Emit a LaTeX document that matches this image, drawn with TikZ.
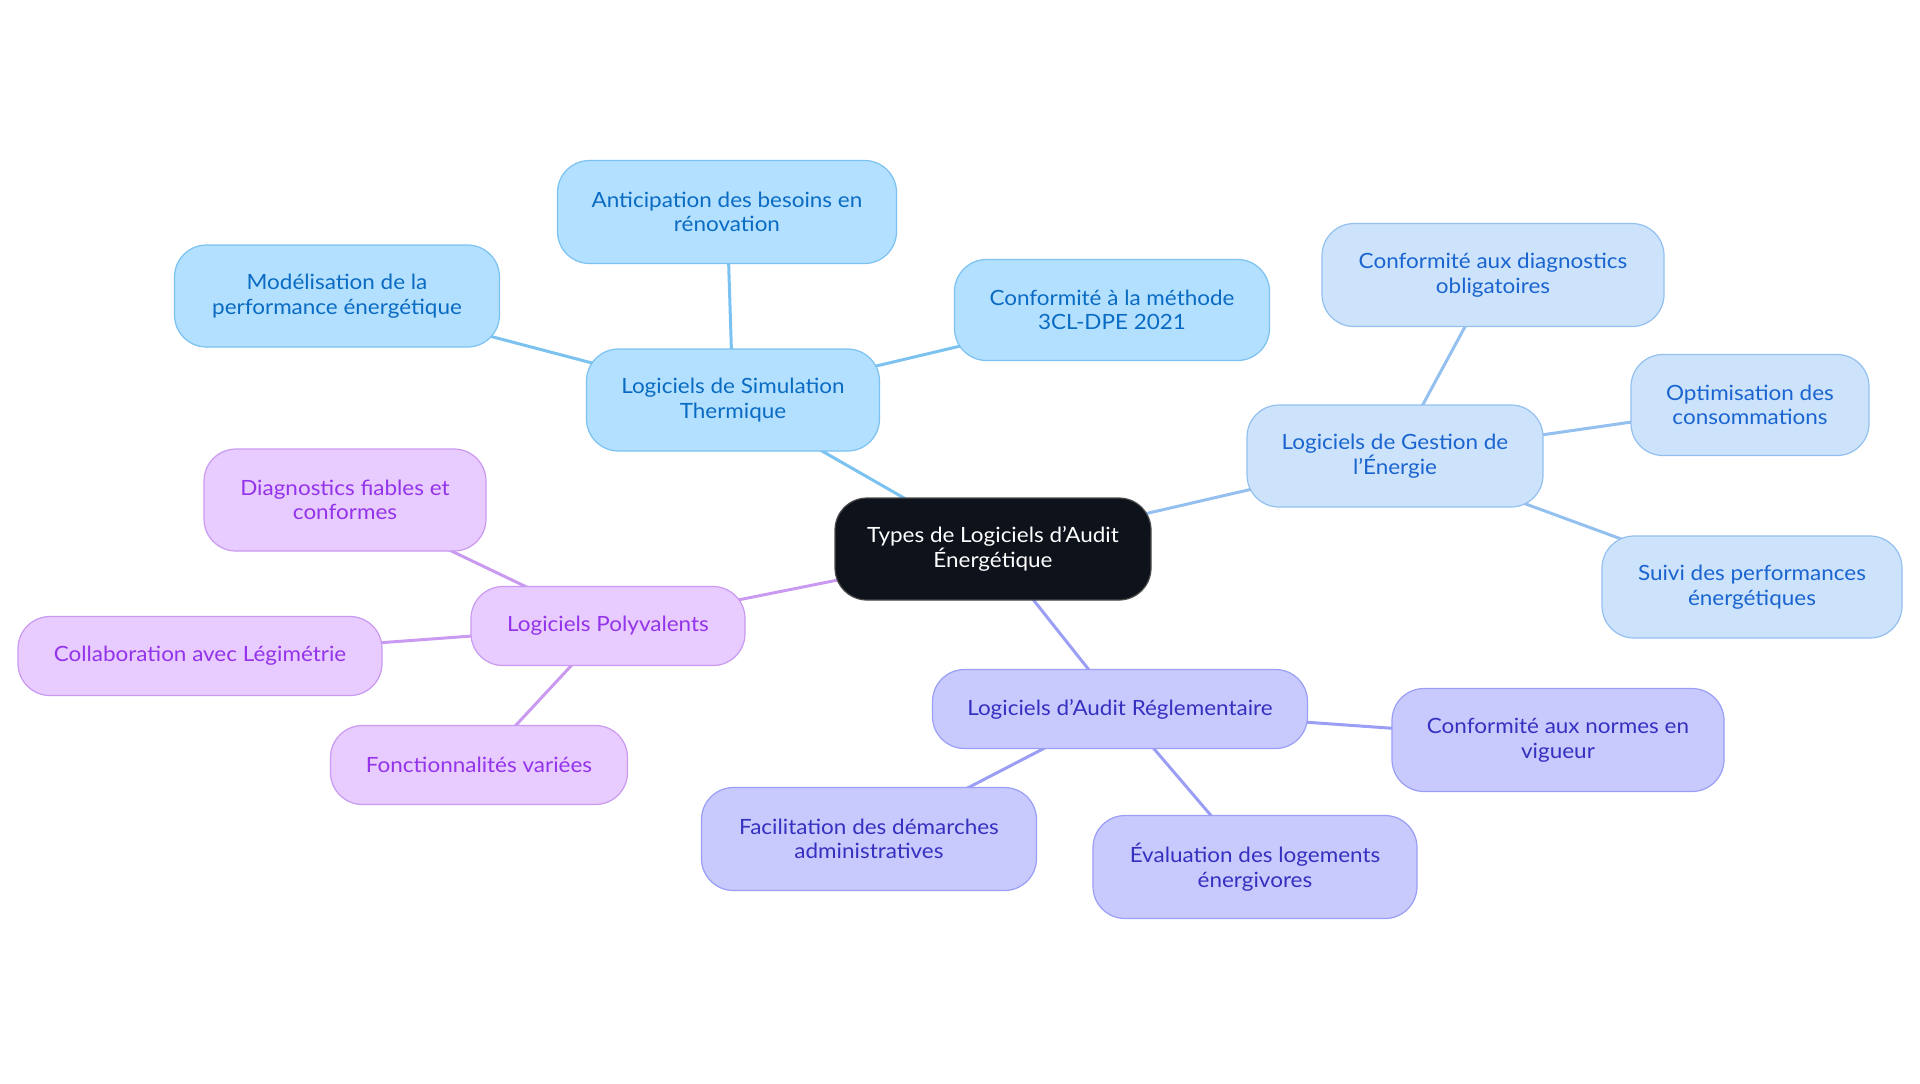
\documentclass[tikz,border=0pt]{standalone}
\usepackage{fontspec}
\setmainfont{Lato}[Ligatures=Common, FakeStretch=1.07]
\usepackage{tikz}
\usetikzlibrary{backgrounds}

\definecolor{rootfill}{HTML}{0D121B}
\definecolor{simfill}{HTML}{B3E0FF}
\definecolor{simdraw}{HTML}{7BC2F0}
\definecolor{simtext}{HTML}{0A6BC2}
\definecolor{gesfill}{HTML}{CCE3FB}
\definecolor{gesdraw}{HTML}{94C0F0}
\definecolor{gestext}{HTML}{1A64D0}
\definecolor{regfill}{HTML}{C8CAFD}
\definecolor{regdraw}{HTML}{9A9EF5}
\definecolor{regtext}{HTML}{3530C0}
\definecolor{polfill}{HTML}{E8CBFF}
\definecolor{poldraw}{HTML}{C99AF0}
\definecolor{poltext}{HTML}{9333EA}

\begin{document}
\begin{tikzpicture}[x=0.5pt, y=-0.5pt,
        font=\fontsize{10.5}{12.25}\selectfont,
        box/.style={rounded corners=16pt, align=center, inner sep=0pt, line width=0.6pt},
        root/.style={box, fill=rootfill, draw=gray!60!black, text=white},
        sim/.style={box, fill=simfill, draw=simdraw, text=simtext},
        ges/.style={box, fill=gesfill, draw=gesdraw, text=gestext},
        reg/.style={box, fill=regfill, draw=regdraw, text=regtext},
        pol/.style={box, fill=polfill, draw=poldraw, text=poltext},
        link/.style={line width=1.5pt}]
    \useasboundingbox (0,0) rectangle (1920,1083);

    % centre
    \node[root, minimum width=158pt, minimum height=51pt] (types) at (993,549)
        {Types de Logiciels d'Audit\\Énergétique};

    % simulation thermique
    \node[sim, minimum width=146.5pt, minimum height=51pt] (simul) at (733,400)
        {Logiciels de Simulation\\Thermique};
    \node[sim, minimum width=169.5pt, minimum height=51.5pt] (anticip) at (727,212)
        {Anticipation des besoins en\\rénovation};
    \node[sim, minimum width=162.5pt, minimum height=51pt] (modelis) at (337,296)
        {Modélisation de la\\performance énergétique};
    \node[sim, minimum width=157.5pt, minimum height=50.5pt] (methode) at (1112,310)
        {Conformité à la méthode\\3CL-DPE 2021};

    % gestion de l'energie
    \node[ges, minimum width=148pt, minimum height=51pt] (gestion) at (1395,456)
        {Logiciels de Gestion de\\l'Énergie};
    \node[ges, minimum width=171pt, minimum height=51.5pt] (diagoblig) at (1493,275)
        {Conformité aux diagnostics\\obligatoires};
    \node[ges, minimum width=119pt, minimum height=50.5pt] (optim) at (1750,405)
        {Optimisation des\\consommations};
    \node[ges, minimum width=150pt, minimum height=51pt] (suivi) at (1752,587)
        {Suivi des performances\\énergétiques};

    % audit reglementaire
    \node[reg, minimum width=187.5pt, minimum height=39.5pt] (reglem) at (1120,709)
        {Logiciels d'Audit Réglementaire};
    \node[reg, minimum width=166pt, minimum height=51.5pt] (normes) at (1558,740)
        {Conformité aux normes en\\vigueur};
    \node[reg, minimum width=167.5pt, minimum height=51.5pt] (facilit) at (869,839)
        {Facilitation des démarches\\administratives};
    \node[reg, minimum width=162pt, minimum height=51.5pt] (evalu) at (1255,867)
        {Évaluation des logements\\énergivores};

    % polyvalents
    \node[pol, minimum width=137pt, minimum height=39.5pt] (polyv) at (608,626)
        {Logiciels Polyvalents};
    \node[pol, minimum width=141pt, minimum height=51pt] (fiables) at (345,500)
        {Diagnostics fiables et\\conformes};
    \node[pol, minimum width=182pt, minimum height=39.5pt] (collab) at (200,656)
        {Collaboration avec Légimétrie};
    \node[pol, minimum width=148.5pt, minimum height=39.5pt] (fonction) at (479,765)
        {Fonctionnalités variées};

    % draw links behind the boxes
    \begin{scope}[on background layer]
        \draw[link, simdraw] (types.center) -- (simul.center);
        \draw[link, simdraw] (simul.center) -- (anticip.center);
        \draw[link, simdraw] (simul.center) -- (modelis.center);
        \draw[link, simdraw] (simul.center) -- (methode.center);
        \draw[link, gesdraw] (types.center) -- (gestion.center);
        \draw[link, gesdraw] (gestion.center) -- (diagoblig.center);
        \draw[link, gesdraw] (gestion.center) -- (optim.center);
        \draw[link, gesdraw] (gestion.center) -- (suivi.center);
        \draw[link, regdraw] (types.center) -- (reglem.center);
        \draw[link, regdraw] (reglem.center) -- (normes.center);
        \draw[link, regdraw] (reglem.center) -- (facilit.center);
        \draw[link, regdraw] (reglem.center) -- (evalu.center);
        \draw[link, poldraw] (types.center) -- (polyv.center);
        \draw[link, poldraw] (polyv.center) -- (fiables.center);
        \draw[link, poldraw] (polyv.center) -- (collab.center);
        \draw[link, poldraw] (polyv.center) -- (fonction.center);
    \end{scope}
\end{tikzpicture}
\end{document}
